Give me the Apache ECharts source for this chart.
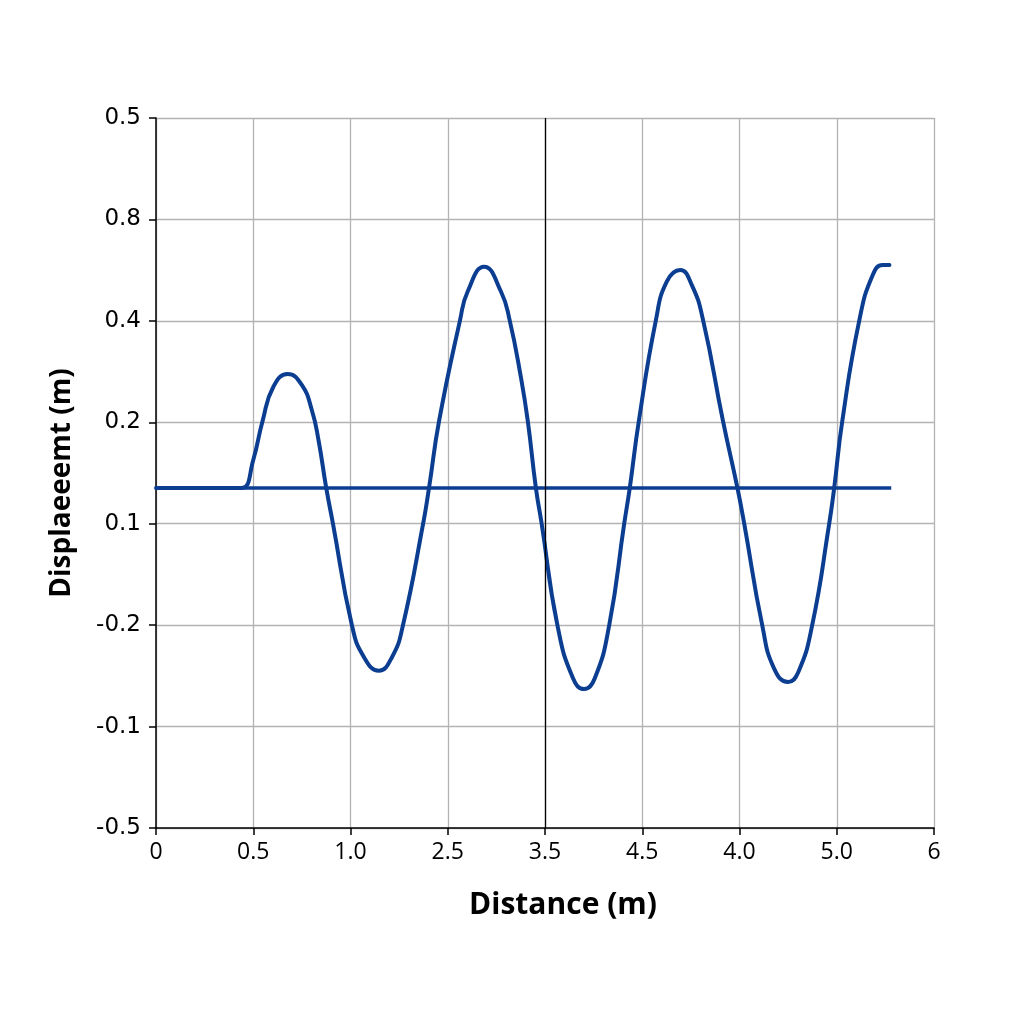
<!DOCTYPE html>
<html><head><meta charset="utf-8">
<script src="https://cdn.jsdelivr.net/npm/echarts@6/dist/echarts.min.js"></script>
<style>html,body{margin:0;padding:0;background:#fff}#c{width:1024px;height:1024px}</style>
</head><body><div id="c"></div>
<script>
// tick labels as printed on the reference (positions 0..8 on x, 0..7 on y)
const xTickLabels = ['0','0.5','1.0','2.5','3.5','4.5','4.0','5.0','6'];
const yTickLabels = ['-0.5','-0.1','-0.2','0.1','0.2','0.4','0.8','0.5'];
// wave: x and y in axis position units
const waveX = [0,0.794,0.894,1.000,1.096,1.207,1.354,1.499,1.602,1.671,1.750,1.819,2.015,2.136,2.291,2.429,2.539,2.746,2.808,2.911,3.126,3.204,3.374,3.548,3.637,3.754,3.823,3.906,3.965,4.128,4.288,4.402,4.512,4.660,4.815,4.872,4.965,5.140,5.252,5.390,5.510,5.626,5.830,5.978,6.048,6.234,6.355,6.499,6.603,6.747,6.923,6.974,7.057,7.232,7.370,7.473,7.542];
const waveY = [3.352,3.352,3.355,3.628,4.013,4.351,4.476,4.368,4.121,3.825,3.355,3.004,1.997,1.689,1.551,1.689,1.997,2.997,3.357,4.013,5.005,5.287,5.534,5.287,5.005,4.434,4.013,3.355,3.004,1.997,1.476,1.370,1.476,1.997,3.004,3.355,4.013,5.005,5.386,5.501,5.353,5.005,4.013,3.355,3.004,1.997,1.574,1.439,1.533,1.997,3.004,3.355,4.013,5.005,5.452,5.551,5.551];
// baseline (equilibrium) line
const baseX = [0, 7.56];
const baseY = [3.352, 3.352];
const markX = 4;

const lineColor = '#0b3d91';
const chart = echarts.init(document.getElementById('c'));
chart.setOption({
  animation:false,
  backgroundColor:'#fff',
  grid:{left:156,right:90,top:118,bottom:196,containLabel:false},
  xAxis:{type:'value',min:0,max:8,interval:1,
    name:'Distance (m)',nameLocation:'middle',nameGap:62,
    nameTextStyle:{fontFamily:'Open Sans',fontWeight:'bold',fontSize:30,color:'#000',padding:[0,0,0,36]},
    axisLine:{onZero:false,lineStyle:{color:'#000',width:1.5}},
    axisTick:{show:true,length:7,lineStyle:{color:'#000',width:1.5}},
    axisLabel:{margin:13,fontFamily:'Open Sans',fontSize:23,color:'#000',formatter:v=>xTickLabels[Math.round(v)]},
    splitLine:{show:true,lineStyle:{color:'#b3b3b3',width:1.3}}
  },
  yAxis:{type:'value',min:0,max:7,interval:1,
    name:'Displaeeemt (m)',nameLocation:'middle',nameGap:80,
    nameTextStyle:{fontFamily:'Open Sans',fontWeight:'bold',fontSize:28,color:'#000',padding:[0,0,0,-20]},
    axisLine:{onZero:false,lineStyle:{color:'#000',width:1.5}},
    axisTick:{show:true,length:7,lineStyle:{color:'#000',width:1.5}},
    axisLabel:{margin:15,fontFamily:'DejaVu Sans',fontSize:23,color:'#000',formatter:v=>yTickLabels[Math.round(v)]},
    splitLine:{show:true,lineStyle:{color:'#b3b3b3',width:1.3}}
  },
  series:[
    {type:'line',data:baseX.map((x,i)=>[x,baseY[i]]),showSymbol:false,
      lineStyle:{color:lineColor,width:3.5},
      markLine:{silent:true,symbol:'none',label:{show:false},
        lineStyle:{color:'#000',width:1.3,type:'solid'},data:[{xAxis:markX}]}},
    {type:'line',data:waveX.map((x,i)=>[x,waveY[i]]),showSymbol:false,smooth:0.5,
      lineStyle:{color:lineColor,width:4,cap:'round',join:'round'}}
  ]
});
</script></body></html>
